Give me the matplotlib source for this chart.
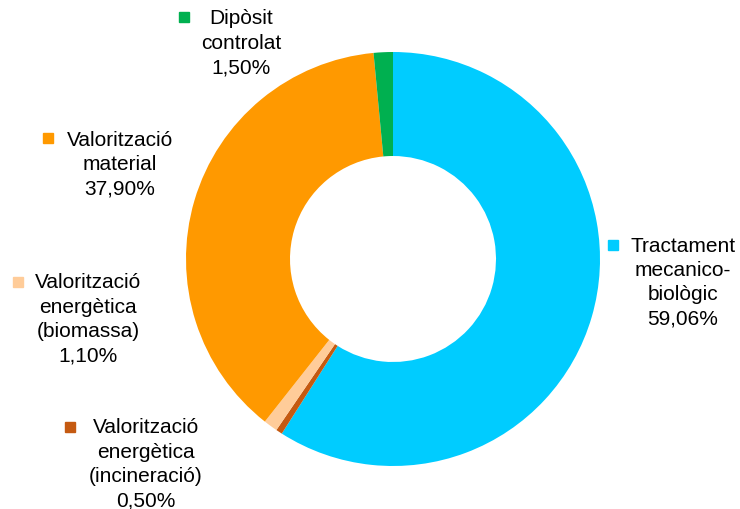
import matplotlib
matplotlib.use('Agg')
import matplotlib.pyplot as plt

# Data
labels = ['Tractament\nmecanico-\nbiològic',
          'Valorització\nenergètica\n(incineració)',
          'Valorització\nenergètica\n(biomassa)',
          'Valorització\nmaterial',
          'Dipòsit\ncontrolat']
values = [59.06, 0.50, 1.10, 37.90, 1.50]
pct_text = ['59,06%', '0,50%', '1,10%', '37,90%', '1,50%']
colors = ['#00CCFF', '#C55A11', '#FFCC99', '#FF9900', '#00B050']

# label block centre x and first line y, marker position (pixels from top-left)
label_pos = [(683, 246), (146, 428), (88, 283), (120, 140), (241, 19)]
marker_pos = [(613, 246), (70, 428), (18, 283), (48, 139), (184, 18)]

W, H = 740, 510
fig = plt.figure(figsize=(W / 100, H / 100), dpi=100)
ax = fig.add_axes([0, 0, 1, 1])
ax.set_aspect('equal')
ax.axis('off')

ax.pie(values, colors=colors, startangle=90, counterclock=False,
       center=(393, H - 260), radius=207,
       wedgeprops=dict(width=104, linewidth=0))
ax.set_xlim(0, W)
ax.set_ylim(0, H)

for lab, pct, (x, y), (mx, my), c in zip(labels, pct_text, label_pos, marker_pos, colors):
    lines = (lab + '\n' + pct).split('\n')
    for i, line in enumerate(lines):
        ax.text(x, H - (y + i * 24.4), line, ha='center', va='center',
                fontsize=15, family='Liberation Sans', color='#000000')
    ax.plot(mx, H - my, marker='s', markersize=6.5, color=c, linestyle='none')

fig.savefig('out.png', dpi=100)
